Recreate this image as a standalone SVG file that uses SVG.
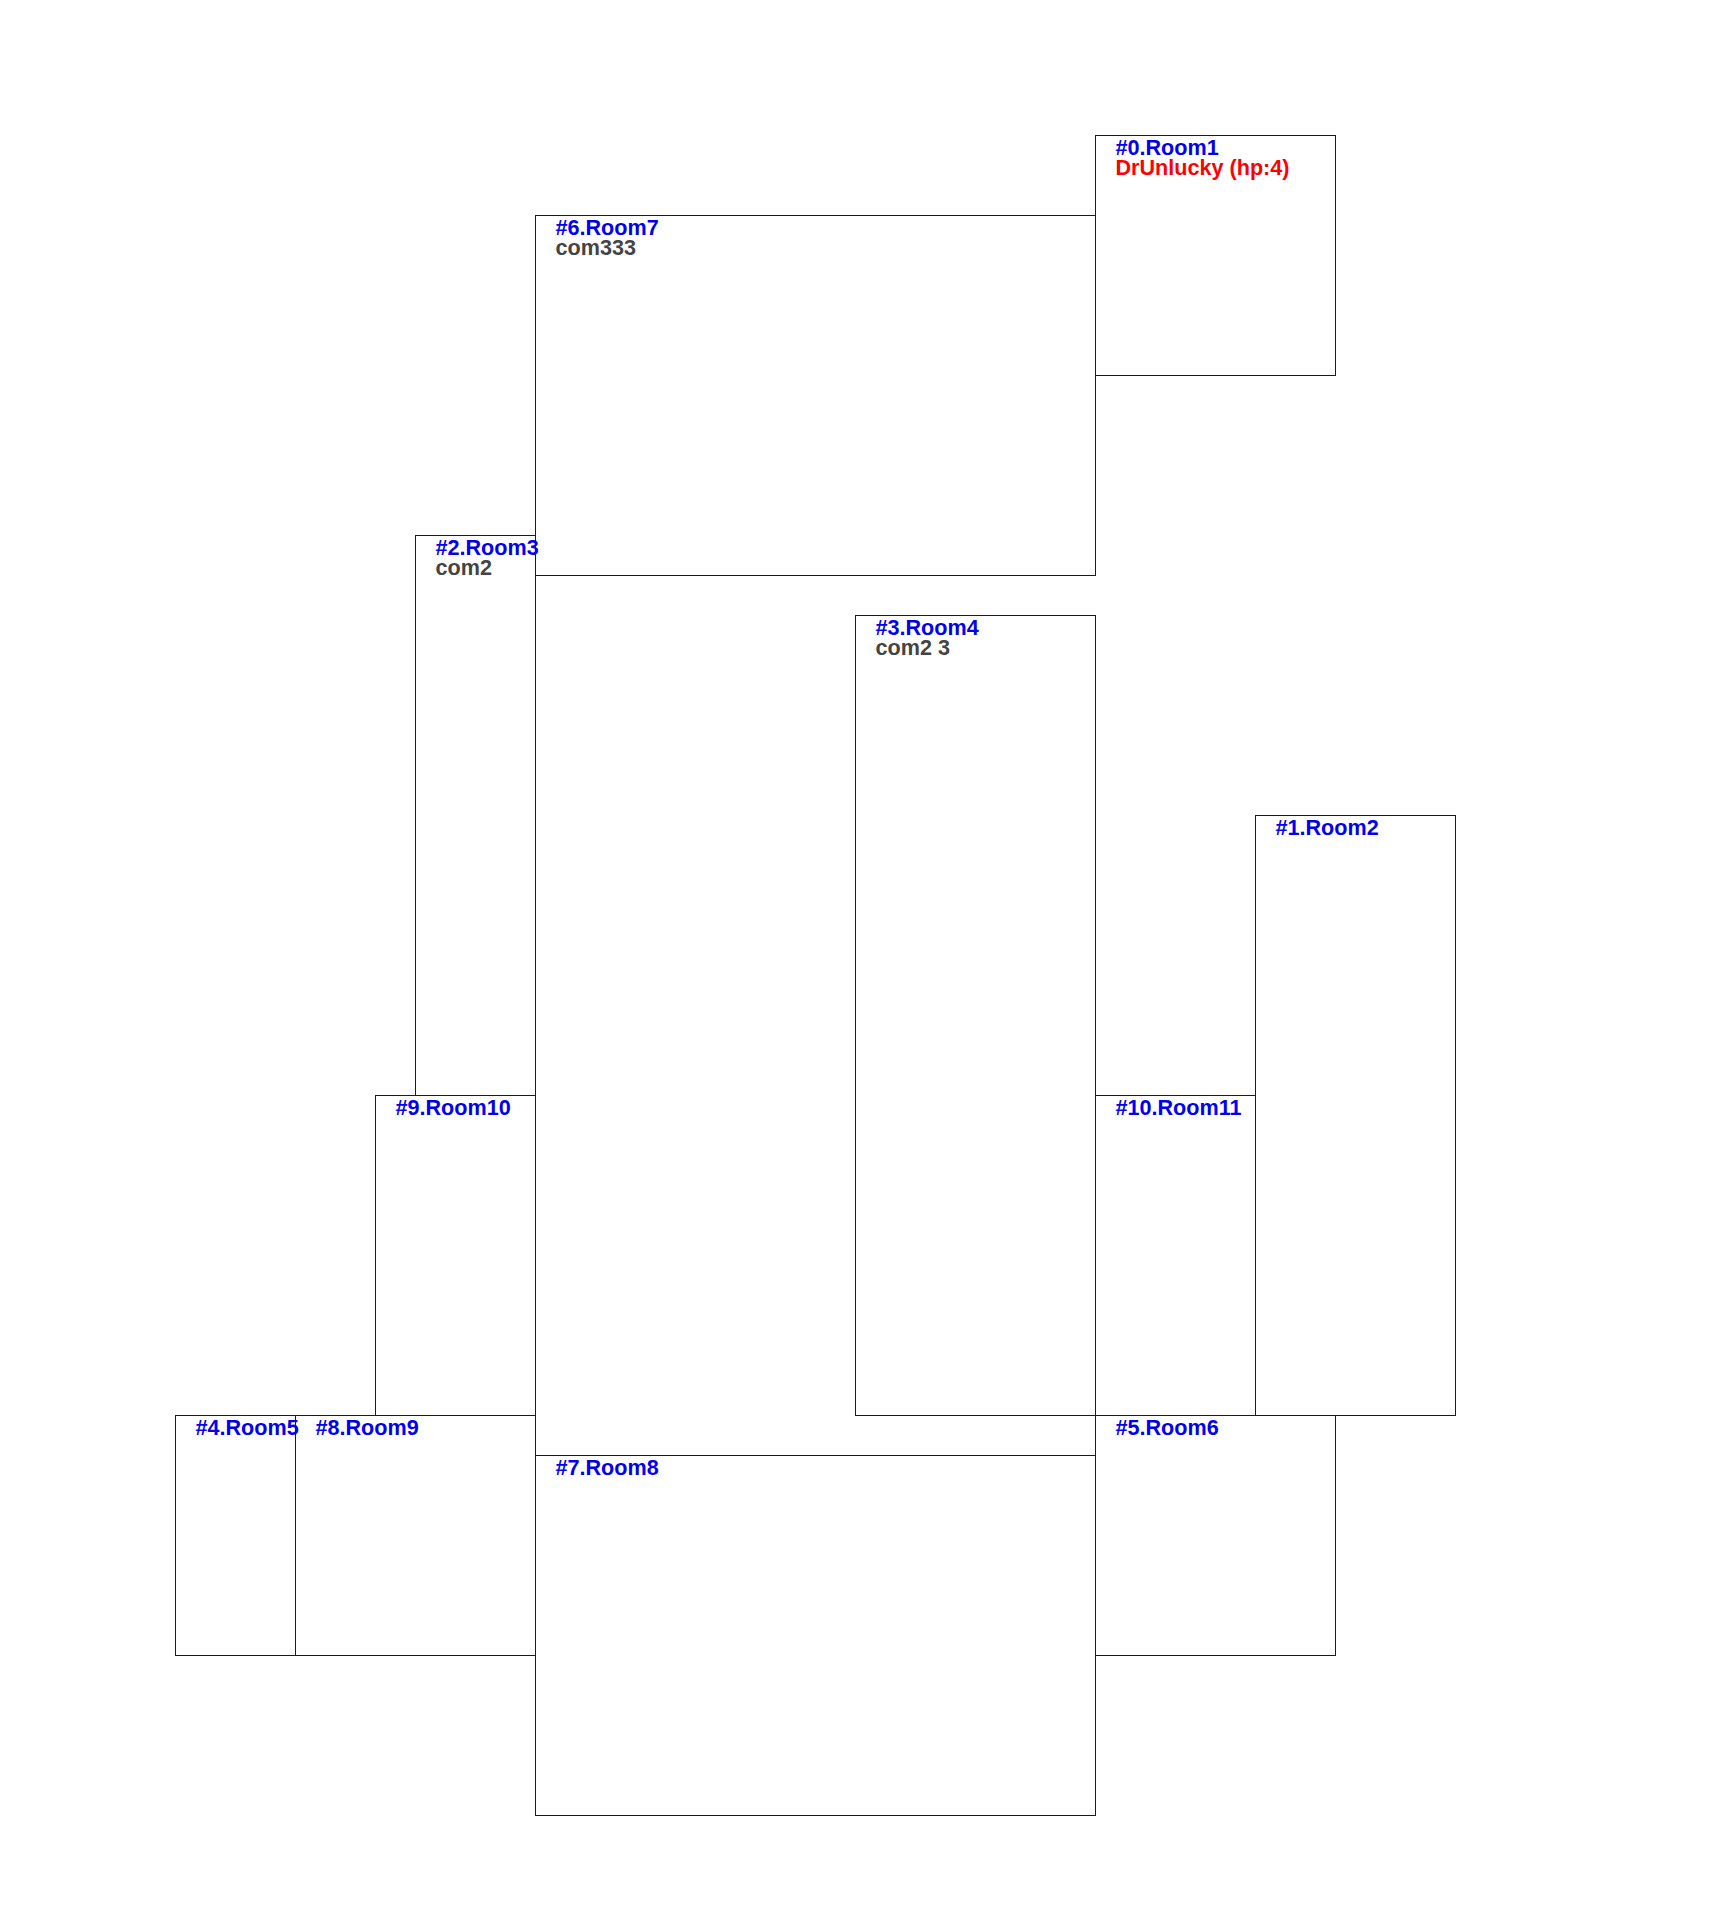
<svg xmlns="http://www.w3.org/2000/svg" width="1720" height="1920" viewBox="0 0 1720 1920">
  <style>
    .room { fill: none; stroke: #0000ee; stroke-width: 1; }
    .title { font-family: "Liberation Sans", Arial, sans-serif; font-weight: bold; font-size: 21.6px; fill: #0000ee; }
    .note { font-family: "Liberation Sans", Arial, sans-serif; font-weight: bold; font-size: 21.6px; fill: #444444; }
    .player { font-family: "Liberation Sans", Arial, sans-serif; font-weight: bold; font-size: 21.6px; fill: #ff0000; }
  </style>
  <rect width="1720" height="1920" fill="#ffffff"/>
  <g id="rooms" transform="translate(0.5,0.5)">
    <g id="room0">
      <rect class="room" x="1095" y="135" width="240" height="240"/>
      <text class="title" x="1115" y="154">#0.Room1</text>
      <text class="player" x="1115" y="174">DrUnlucky (hp:4)</text>
    </g>
    <g id="room6">
      <rect class="room" x="535" y="215" width="560" height="360"/>
      <text class="title" x="555" y="234">#6.Room7</text>
      <text class="note" x="555" y="254">com333</text>
    </g>
    <g id="room2">
      <rect class="room" x="415" y="535" width="120" height="560"/>
      <text class="title" x="435" y="554">#2.Room3</text>
      <text class="note" x="435" y="574">com2</text>
    </g>
    <g id="room3">
      <rect class="room" x="855" y="615" width="240" height="800"/>
      <text class="title" x="875" y="634">#3.Room4</text>
      <text class="note" x="875" y="654">com2 3</text>
    </g>
    <g id="room1">
      <rect class="room" x="1255" y="815" width="200" height="600"/>
      <text class="title" x="1275" y="834">#1.Room2</text>
    </g>
    <g id="room9">
      <rect class="room" x="375" y="1095" width="160" height="320"/>
      <text class="title" x="395" y="1114">#9.Room10</text>
    </g>
    <g id="room10">
      <rect class="room" x="1095" y="1095" width="160" height="320"/>
      <text class="title" x="1115" y="1114">#10.Room11</text>
    </g>
    <g id="room4">
      <rect class="room" x="175" y="1415" width="120" height="240"/>
      <text class="title" x="195" y="1434">#4.Room5</text>
    </g>
    <g id="room8">
      <rect class="room" x="295" y="1415" width="240" height="240"/>
      <text class="title" x="315" y="1434">#8.Room9</text>
    </g>
    <g id="room5">
      <rect class="room" x="1095" y="1415" width="240" height="240"/>
      <text class="title" x="1115" y="1434">#5.Room6</text>
    </g>
    <g id="room7">
      <rect class="room" x="535" y="1455" width="560" height="360"/>
      <text class="title" x="555" y="1474">#7.Room8</text>
    </g>
    <!-- central corridor between Room7 and Room8 -->
    <g id="corridor">
      <line class="room" x1="535" y1="575" x2="535" y2="1455"/>
    </g>
  </g>
  <g id="connectors"></g>
</svg>
